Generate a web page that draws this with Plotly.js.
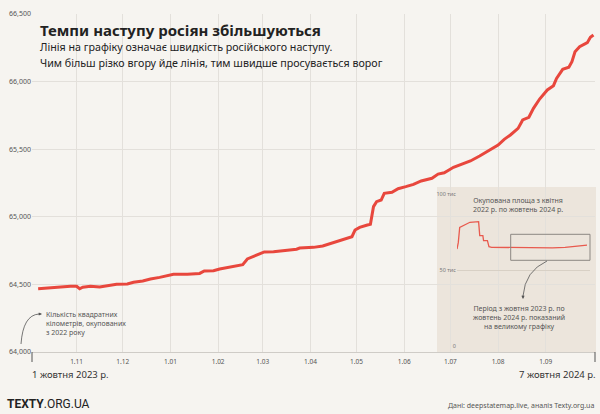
<!DOCTYPE html>
<html>
<head>
<meta charset="utf-8">
<script src="https://cdn.plot.ly/plotly-3.0.1.min.js"></script>
<style>
  html, body { margin: 0; padding: 0; background: #f6f4f0; }
  #chart { width: 600px; height: 414px; }
</style>
</head>
<body>
<div id="chart"></div>
<script>
// ---- Main series: occupied area, km² (Oct 2023 – Oct 2024) ----
const mainDates = [
  '2023-10-07','2023-10-15','2023-10-20','2023-10-23','2023-10-28','2023-11-01','2023-11-03','2023-11-05',
  '2023-11-10','2023-11-16','2023-11-22','2023-11-27','2023-12-04','2023-12-08','2023-12-14','2023-12-19',
  '2023-12-25','2023-12-30','2024-01-03','2024-01-12','2024-01-20','2024-01-23','2024-01-29','2024-02-02',
  '2024-02-11','2024-02-17','2024-02-20','2024-02-24','2024-02-28','2024-03-02','2024-03-08','2024-03-17',
  '2024-03-23','2024-03-25','2024-04-03','2024-04-09','2024-04-16','2024-04-22','2024-04-28','2024-04-30',
  '2024-05-03','2024-05-08','2024-05-10','2024-05-12','2024-05-14','2024-05-17','2024-05-19','2024-05-24',
  '2024-05-28','2024-06-02','2024-06-07','2024-06-12','2024-06-19','2024-06-23','2024-06-27','2024-07-03',
  '2024-07-08','2024-07-14','2024-07-20','2024-07-27','2024-08-01','2024-08-05','2024-08-09','2024-08-14',
  '2024-08-17','2024-08-21','2024-08-24','2024-08-28','2024-09-02','2024-09-06','2024-09-08','2024-09-12',
  '2024-09-16','2024-09-18','2024-09-20','2024-09-23','2024-09-28','2024-09-30','2024-10-02'
];
const mainValues = [
  64468,64476,64483,64481,64486,64486,64468,64479,
  64486,64481,64490,64501,64503,64516,64525,64540,
  64552,64564,64575,64575,64581,64599,64601,64614,
  64631,64646,64688,64705,64725,64740,64742,64752,
  64760,64769,64774,64784,64808,64828,64853,64902,
  64922,64939,64944,65075,65112,65124,65174,65181,
  65208,65223,65240,65265,65285,65316,65326,65366,
  65390,65413,65450,65499,65531,65573,65605,65654,
  65716,65736,65802,65871,65938,65970,66024,66091,
  66106,66147,66221,66258,66288,66328,66345
];

// ---- Inset series: occupied area Apr 2022 – Oct 2024 ----
const insetDates = [
  '2022-04-01','2022-04-10','2022-04-20','2022-05-15','2022-07-01','2022-08-31','2022-09-08','2022-09-30',
  '2022-10-05','2022-11-01','2022-11-12','2022-12-01','2023-03-01','2023-06-01','2023-10-01','2024-02-01',
  '2024-05-01','2024-07-01','2024-08-01','2024-09-01','2024-10-02'
];
const insetValues = [
  63800,68000,78000,79000,81400,81800,72600,72600,
  69300,69300,65300,64900,64800,64600,64470,64600,
  64900,65350,65530,65940,66350
];

// ---- Tick labels ----
const monthTicks = ['2023-11-01','2023-12-01','2024-01-01','2024-02-01','2024-03-01','2024-04-01',
                    '2024-05-01','2024-06-01','2024-07-01','2024-08-01','2024-09-01'];
const monthLabels = ['1.11','1.12','1.01','1.02','1.03','1.04','1.05','1.06','1.07','1.08','1.09'];
const mainYTicks = [64000, 64500, 65000, 65500, 66000, 66500];
const insetYTicks = [0, 50000, 100000];
const insetYLabels = ['0', '50 тис', '100 тис'];

const W = 600, H = 414;
const px = v => v / W;
const py = v => 1 - v / H;

const FONT = 'Noto Sans, Open Sans, sans-serif';
const RED = '#e8473d';

const traces = [
  {
    x: mainDates, y: mainValues, type: 'scatter', mode: 'lines',
    line: { color: RED, width: 3 }, hoverinfo: 'skip', xaxis: 'x', yaxis: 'y'
  },
  {
    x: insetDates, y: insetValues, type: 'scatter', mode: 'lines',
    line: { color: '#e85a4e', width: 1.3 }, hoverinfo: 'skip', xaxis: 'x2', yaxis: 'y2'
  }
];

const layout = {
  width: W, height: H,
  margin: { l: 0, r: 0, t: 0, b: 0 },
  paper_bgcolor: '#f6f4f0',
  plot_bgcolor: 'rgba(0,0,0,0)',
  showlegend: false,
  font: { family: FONT, color: '#333' },
  xaxis: {
    type: 'date', domain: [px(32), px(595)],
    range: ['2023-10-03', '2024-10-03'],
    tickvals: monthTicks, ticktext: monthLabels,
    showgrid: true, gridcolor: '#e3e0db', gridwidth: 1,
    zeroline: false, showline: true, linecolor: '#cfccc7', linewidth: 1,
    ticks: '', ticklabelstandoff: 3,
    tickfont: { size: 6.5, color: '#555', family: FONT },
    fixedrange: true
  },
  yaxis: {
    domain: [py(352), py(14)], range: [64000, 66500],
    tickvals: mainYTicks, tickformat: ',d',
    showgrid: true, gridcolor: '#e3e0db', gridwidth: 1,
    zeroline: false, showline: false, ticks: '',
    tickfont: { size: 7, color: '#555', family: FONT },
    fixedrange: true
  },
  xaxis2: {
    type: 'date', anchor: 'y2', domain: [px(457), px(590)],
    range: ['2022-04-01', '2024-10-23'],
    showgrid: false, zeroline: false, showline: false, showticklabels: false, ticks: '',
    fixedrange: true
  },
  yaxis2: {
    anchor: 'x2', domain: [py(346), py(194)], range: [0, 100000],
    tickvals: insetYTicks, ticktext: insetYLabels,
    showgrid: true, gridcolor: '#d8d0c5', gridwidth: 1,
    zeroline: false, showline: false, ticks: '',
    tickfont: { size: 5.5, color: '#777', family: FONT },
    fixedrange: true
  },
  shapes: [
    // inset background
    { type: 'rect', xref: 'paper', yref: 'paper', x0: px(437), x1: px(596), y0: py(352), y1: py(187),
      fillcolor: '#ece5dc', line: { width: 0 }, layer: 'below' },
    // highlight box in inset
    { type: 'rect', xref: 'paper', yref: 'paper', x0: px(510.7), x1: px(590), y0: py(260.3), y1: py(234.3),
      fillcolor: 'rgba(0,0,0,0)', line: { color: '#8c8782', width: 1 } },
    // curved pointer from box to note
    { type: 'path', xref: 'paper', yref: 'paper',
      path: `M ${px(547)} ${py(261)} Q ${px(525)} ${py(271)} ${px(523)} ${py(296)}`,
      line: { color: '#555', width: 0.8 } },
    // curved pointer for left note
    { type: 'path', xref: 'paper', yref: 'paper',
      path: `M ${px(21)} ${py(344)} Q ${px(23)} ${py(315)} ${px(39)} ${py(314)}`,
      line: { color: '#555', width: 0.8 } },
    // end tick marks on x axis
    { type: 'line', xref: 'paper', yref: 'paper', x0: px(32), x1: px(32), y0: py(352), y1: py(362),
      line: { color: '#555', width: 1 } },
    { type: 'line', xref: 'paper', yref: 'paper', x0: px(595), x1: px(595), y0: py(352), y1: py(362),
      line: { color: '#555', width: 1 } }
  ],
  annotations: [
    { xref: 'paper', yref: 'paper', x: px(38), y: py(30), xanchor: 'left', yanchor: 'middle', showarrow: false,
      text: '<b>Темпи наступу росіян збільшуються</b>', font: { size: 15, color: '#222', family: FONT } },
    { xref: 'paper', yref: 'paper', x: px(38), y: py(47.5), xanchor: 'left', yanchor: 'middle', showarrow: false,
      text: 'Лінія на графіку означає швидкість російського наступу.', font: { size: 10.7, color: '#222', family: FONT } },
    { xref: 'paper', yref: 'paper', x: px(38), y: py(62.5), xanchor: 'left', yanchor: 'middle', showarrow: false,
      text: 'Чим більш різко вгору йде лінія, тим швидше просувається ворог', font: { size: 10.7, color: '#222', family: FONT } },

    { xref: 'paper', yref: 'paper', x: px(44), y: py(323), xanchor: 'left', yanchor: 'middle', showarrow: false, align: 'left',
      text: 'Кількість квадратних<br>кілометрів, окупованих<br>з 2022 року', font: { size: 7, color: '#555', family: FONT } },
    { xref: 'paper', yref: 'paper', x: px(42), y: py(314), ax: -5, ay: 0, showarrow: true, arrowhead: 2, arrowsize: 0.8,
      arrowwidth: 0.8, arrowcolor: '#555', text: '' },

    { xref: 'paper', yref: 'paper', x: px(518), y: py(205), xanchor: 'center', yanchor: 'middle', showarrow: false, align: 'center',
      text: 'Окупована площа з квітня<br>2022 р. по жовтень 2024 р.', font: { size: 7, color: '#555', family: FONT } },
    { xref: 'paper', yref: 'paper', x: px(519), y: py(317.5), xanchor: 'center', yanchor: 'middle', showarrow: false, align: 'center',
      text: 'Період з жовтня 2023 р. по<br>жовтень 2024 р. показаний<br>на великому графіку', font: { size: 7, color: '#555', family: FONT } },
    { xref: 'paper', yref: 'paper', x: px(523), y: py(299), ax: 0, ay: -5, showarrow: true, arrowhead: 2, arrowsize: 0.8,
      arrowwidth: 0.8, arrowcolor: '#555', text: '' },

    { xref: 'paper', yref: 'paper', x: px(30), y: py(374), xanchor: 'left', yanchor: 'middle', showarrow: false,
      text: '1 жовтня 2023 р.', font: { size: 9.5, color: '#333', family: FONT } },
    { xref: 'paper', yref: 'paper', x: px(598), y: py(374), xanchor: 'right', yanchor: 'middle', showarrow: false,
      text: '7 жовтня 2024 р.', font: { size: 9.5, color: '#333', family: FONT } },

    { xref: 'paper', yref: 'paper', x: px(5), y: py(404), xanchor: 'left', yanchor: 'middle', showarrow: false,
      text: '<b>TEXTY</b>.ORG.UA', font: { size: 12, color: '#222', family: 'Roboto, Noto Sans, sans-serif' } },
    { xref: 'paper', yref: 'paper', x: px(596), y: py(405), xanchor: 'right', yanchor: 'middle', showarrow: false,
      text: 'Дані: deepstatemap.live, аналіз Texty.org.ua', font: { size: 7, color: '#555', family: FONT } }
  ]
};

Plotly.newPlot('chart', traces, layout, { displayModeBar: false, staticPlot: true });
</script>
</body>
</html>
